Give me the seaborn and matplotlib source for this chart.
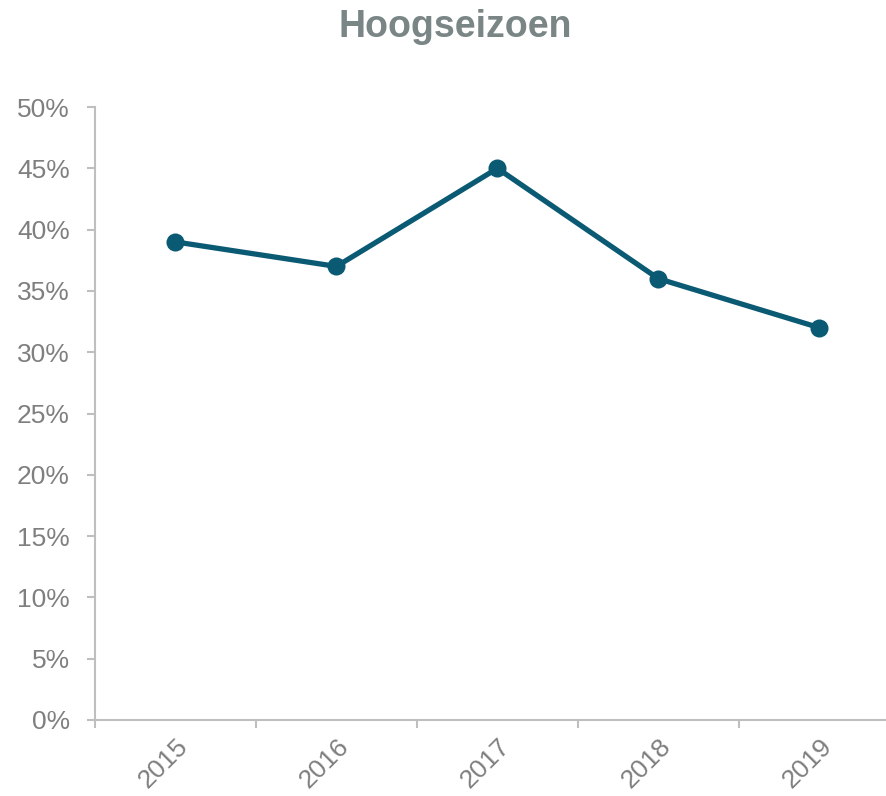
import matplotlib
matplotlib.use("Agg")
import matplotlib.pyplot as plt
import seaborn as sns
import pandas as pd
from matplotlib.ticker import FuncFormatter, FixedLocator

jaren = ["2015", "2016", "2017", "2018", "2019"]
aandeel = [39, 37, 45, 36, 32]

sns.set_style("white")
plt.rcParams['font.family'] = ['Liberation Sans', 'DejaVu Sans']

df = pd.DataFrame({"jaar": jaren, "aandeel": aandeel})

fig = plt.figure(figsize=(8.87, 7.96), dpi=100)
ax = fig.add_axes([0.107, 0.0955, 0.893, 0.770])

sns.lineplot(data=df, x="jaar", y="aandeel", sort=False, ax=ax,
             color="#0B5A74", linewidth=3.8, marker="o", markersize=13,
             markeredgewidth=0)

ax.set_ylim(0, 50)
ax.set_yticks(range(0, 51, 5))
ax.yaxis.set_major_formatter(FuncFormatter(lambda v, p: f"{int(v)}%"))
ax.set_xlim(-0.5, 4.42)

grijs = "#7F7F7F"
lijn = "#BFBFBF"
ax.tick_params(axis="y", colors=lijn, labelcolor=grijs, labelsize=19,
               length=6, width=1.5, direction="out", left=True, pad=12)
ax.tick_params(axis="x", which="major", length=0, labelcolor=grijs,
               labelsize=19, pad=10)
ax.xaxis.set_minor_locator(FixedLocator([-0.5, 0.5, 1.5, 2.5, 3.5]))
ax.tick_params(axis="x", which="minor", length=6, width=1.5, color=lijn,
               direction="out", bottom=True)
for lbl in ax.get_xticklabels():
    lbl.set_rotation(45)
    lbl.set_ha("right")
    lbl.set_rotation_mode("anchor")

for s in ["top", "right"]:
    ax.spines[s].set_visible(False)
for s in ["left", "bottom"]:
    ax.spines[s].set_color(lijn)
    ax.spines[s].set_linewidth(1.5)

ax.set_xlabel("")
ax.set_ylabel("")
fig.text(0.513, 0.966, "Hoogseizoen", ha="center", va="center",
         fontsize=27, fontweight="bold", color="#7A8585")

fig.savefig("out.png", dpi=100)
